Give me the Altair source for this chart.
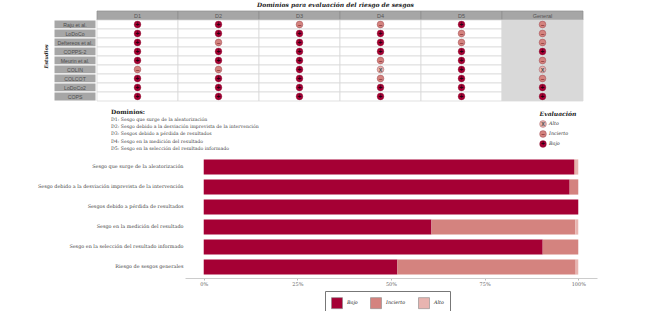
import altair as alt
import pandas as pd

SERIF = "DejaVu Serif"
SANS = "Liberation Sans"

# ---------------- data ----------------
studies = ["Raju et al.", "LoDoCo", "Deftereos et al.", "COPPS-2", "Meurin et al.",
           "COLIN", "COLCOT", "LoDoCo2", "COPS"]
domains = ["D1", "D2", "D3", "D4", "D5", "General"]
d1 = ["Bajo", "Bajo", "Bajo", "Bajo", "Bajo", "Incierto", "Bajo", "Bajo", "Bajo"]
d2 = ["Bajo", "Bajo", "Incierto", "Bajo", "Bajo", "Incierto", "Bajo", "Bajo", "Bajo"]
d3 = ["Incierto", "Bajo", "Bajo", "Bajo", "Bajo", "Bajo", "Bajo", "Bajo", "Bajo"]
d4 = ["Incierto", "Bajo", "Bajo", "Bajo", "Incierto", "Alto", "Incierto", "Bajo", "Bajo"]
d5 = ["Bajo", "Incierto", "Incierto", "Bajo", "Bajo", "Bajo", "Bajo", "Bajo", "Bajo"]
general = ["Incierto", "Incierto", "Incierto", "Bajo", "Incierto", "Alto", "Incierto", "Bajo", "Bajo"]

levels = ["Bajo", "Incierto", "Alto"]
glyphs = ["+", "\u2013", "x"]
level_colors = ["#A50034", "#D4837F", "#E8B4B0"]
glyph_colors = ["#2a000c", "#8c3a3a", "#555555"]

domain_lines = [
    "Dominios:",
    "D1: Sesgo que surge de la aleatorización",
    "D2: Sesgo debido a la desviación imprevista de la intervención",
    "D3: Sesgos debido a pérdida de resultados",
    "D4: Sesgo en la medición del resultado",
    "D5: Sesgo en la selección del resultado informado",
]
eval_order = ["Alto", "Incierto", "Bajo"]

bar_cats = [
    "Sesgo que surge de la aleatorización",
    "Sesgo debido a la desviación imprevista de la intervención",
    "Sesgos debido a pérdida de resultados",
    "Sesgo en la medición del resultado",
    "Sesgo en la selección del resultado informado",
    "Riesgo de sesgos generales",
]
bajo_pct = [98.9, 97.7, 100.0, 60.8, 90.5, 51.7]
incierto_pct = [0.4, 2.3, 0.0, 38.4, 9.5, 47.6]
alto_pct = [0.7, 0.0, 0.0, 0.8, 0.0, 0.7]

# ---------------- tables ----------------
glyph_of = dict(zip(levels, glyphs))
rows = []
for dom, col in zip(domains, [d1, d2, d3, d4, d5, general]):
    for s, lv in zip(studies, col):
        rows.append({"dom": dom, "study": s, "level": lv, "glyph": glyph_of[lv]})
grid_df = pd.DataFrame(rows)
hdr_df = pd.DataFrame({"dom": domains, "study": ["hdr"] * len(domains)})
lab_df = pd.DataFrame({"study": studies, "col": ["lab"] * len(studies)})

Y_DOMAIN = ["hdr"] + studies

# layout (pixels, relative to the shared plot origin of the bar chart)
P = 37            # left padding
X0 = 185          # absolute x of the shared origin
GRID_L, GRID_R = 97, 583
LAB_L, LAB_R = 54, 96

# ---------------- top: labels + grid in one layered view ----------------
gy = alt.Y("study:N", scale=alt.Scale(domain=Y_DOMAIN, paddingInner=0, paddingOuter=0),
           axis=alt.Axis(title="Estudios", labels=False, ticks=False, domain=False,
                         titleFont=SERIF, titleFontSize=5, titleFontWeight="bold",
                         titleFontStyle="italic", titleColor="#222", titlePadding=X0 - 48))
lx = alt.X("col:N", scale=alt.Scale(domain=["lab"], range=[LAB_L - X0, LAB_R - X0],
                                    paddingInner=0, paddingOuter=0), axis=None)
gx = alt.X("dom:N", scale=alt.Scale(domain=domains, range=[GRID_L - X0, GRID_R - X0],
                                    paddingInner=0, paddingOuter=0), axis=None)

lab_rect = alt.Chart(lab_df).mark_rect(fill="#a6a6a6", stroke="white", strokeWidth=1).encode(x=lx, y=gy)
lab_text = alt.Chart(lab_df).mark_text(font=SANS, fontSize=5.2, color="#4d4d4d", baseline="middle").encode(
    x=lx, y=gy, text="study:N")
hdr_rect = alt.Chart(hdr_df).mark_rect(fill="#a6a6a6", stroke="#8c8c8c", strokeWidth=0.7).encode(x=gx, y=gy)
hdr_text = alt.Chart(hdr_df).mark_text(font=SANS, fontSize=5.5, color="#555", baseline="middle").encode(
    x=gx, y=gy, text="dom:N")
body_rect = alt.Chart(grid_df).mark_rect(stroke="#d9d9d9", strokeWidth=0.8).encode(
    x=gx, y=gy,
    color=alt.condition(alt.datum.dom == "General", alt.value("#d9d9d9"), alt.value("white")))
dots = alt.Chart(grid_df).mark_point(filled=True, shape="circle", size=46, opacity=1,
                                     stroke="#7a2030", strokeWidth=0.3).encode(
    x=gx, y=gy,
    color=alt.Color("level:N", scale=alt.Scale(domain=levels, range=level_colors), legend=None))
dot_glyph = alt.Chart(grid_df).mark_text(font=SANS, fontSize=6.5, fontWeight="bold", baseline="middle").encode(
    x=gx, y=gy, text="glyph:N",
    fill=alt.Fill("level:N", scale=alt.Scale(domain=levels, range=glyph_colors), legend=None))

top = alt.layer(lab_rect, lab_text, hdr_rect, hdr_text, body_rect, dots, dot_glyph).resolve_scale(
    x="independent"
).properties(
    width=GRID_R - X0, height=90,
    title=alt.TitleParams(text="Dominios para evaluación del riesgo de sesgos",
                          font=SERIF, fontSize=6, fontWeight="bold", fontStyle="italic",
                          color="#222", anchor="start", frame="group", dx=257 - X0, offset=2.5))

# ---------------- middle: texts / legend ----------------
dom_df = pd.DataFrame({"idx": list(range(len(domain_lines))), "txt": domain_lines})
dom_y = alt.Y("idx:Q", scale=alt.Scale(domain=[-1.39, 6.11], nice=False, zero=False, reverse=True),
              axis=None)
dom_head = alt.Chart(dom_df).transform_filter("datum.idx == 0").mark_text(
    align="left", baseline="middle", font=SERIF, fontSize=6, fontWeight="bold", color="#222").encode(
    x=alt.value(111 - X0), y=dom_y, text="txt:N")
dom_body = alt.Chart(dom_df).transform_filter("datum.idx > 0").mark_text(
    align="left", baseline="middle", font=SERIF, fontSize=4.65, color="#444").encode(
    x=alt.value(111 - X0), y=dom_y, text="txt:N")

eval_df = pd.DataFrame({"idx": [1, 2, 3], "level": eval_order,
                        "glyph": [glyph_of[l] for l in eval_order]})
eval_title_df = pd.DataFrame({"idx": [0], "txt": ["Evaluación"]})
eval_y = alt.Y("idx:Q", scale=alt.Scale(domain=[-1.2, 4.3], nice=False, zero=False, reverse=True),
               axis=None)
e_title = alt.Chart(eval_title_df).mark_text(
    align="center", baseline="middle", font=SERIF, fontSize=6, fontWeight="bold",
    fontStyle="italic", color="#222").encode(x=alt.value(558 - X0), y=eval_y, text="txt:N")
e_dots = alt.Chart(eval_df).mark_point(filled=True, shape="circle", size=46, opacity=1,
                                       stroke="#7a2030", strokeWidth=0.3).encode(
    x=alt.value(543 - X0), y=eval_y,
    color=alt.Color("level:N", scale=alt.Scale(domain=levels, range=level_colors), legend=None))
e_glyph = alt.Chart(eval_df).mark_text(font=SANS, fontSize=6.5, fontWeight="bold", baseline="middle").encode(
    x=alt.value(543 - X0), y=eval_y, text="glyph:N",
    fill=alt.Fill("level:N", scale=alt.Scale(domain=levels, range=glyph_colors), legend=None))
e_lab = alt.Chart(eval_df).mark_text(align="left", baseline="middle", font=SERIF, fontSize=4.8,
                                     fontStyle="italic", color="#333").encode(
    x=alt.value(549 - X0), y=eval_y, text="level:N")

middle = alt.layer(dom_head, dom_body, e_title, e_dots, e_glyph, e_lab).resolve_scale(
    y="independent").properties(width=GRID_R - X0, height=55)

# ---------------- bottom: stacked bars ----------------
brows = []
for i, c in enumerate(bar_cats):
    for k, (lv, vals) in enumerate(zip(levels, [bajo_pct, incierto_pct, alto_pct])):
        brows.append({"cat": c, "level": lv, "value": vals[i] / 100.0, "ord": k})
bar_df = pd.DataFrame(brows)

bars = alt.Chart(bar_df).mark_bar().encode(
    y=alt.Y("cat:N", sort=bar_cats,
            scale=alt.Scale(paddingInner=0.24, paddingOuter=0.12),
            axis=alt.Axis(title=None, domain=False, ticks=False, labelPadding=2,
                          labelFont=SERIF, labelFontSize=4.9, labelColor="#444", labelLimit=400)),
    x=alt.X("value:Q", stack="zero",
            scale=alt.Scale(domain=[-0.05, 1.05], nice=False),
            axis=alt.Axis(title=None, values=[0, 0.25, 0.5, 0.75, 1], format="%", grid=False,
                          labelFont=SERIF, labelFontSize=5, labelColor="#666",
                          tickSize=2, tickColor="#bbb", domainColor="#cccccc", domainWidth=1,
                          offset=1, labelPadding=1)),
    color=alt.Color("level:N", scale=alt.Scale(domain=levels, range=level_colors),
                    legend=alt.Legend(title=None, orient="none", legendX=140, legendY=134,
                                      direction="horizontal", symbolType="square", symbolSize=121,
                                      symbolStrokeColor="#888", symbolStrokeWidth=0.6,
                                      labelFont=SERIF, labelFontStyle="italic", labelFontSize=4.8,
                                      labelColor="#222", labelOffset=4, columnPadding=11,
                                      padding=6, strokeColor="#777", fillColor="white")),
    order=alt.Order("ord:Q"),
).properties(width=412, height=120)

chart = alt.vconcat(top, middle, bars, spacing=0).resolve_scale(
    color="independent", fill="independent"
).properties(
    padding={"left": P, "top": 2, "right": 5, "bottom": 2}
).configure_view(stroke=None)

chart.save("out.html", embed_options={"renderer": "svg", "actions": False})
